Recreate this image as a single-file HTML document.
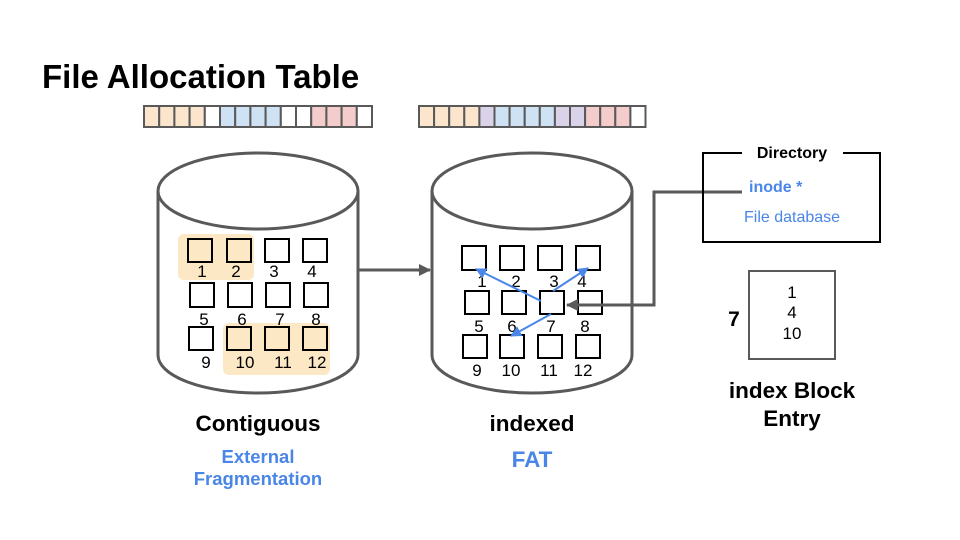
<!DOCTYPE html>
<html><head><meta charset="utf-8"><style>
body{margin:0;background:#fff;}
svg{display:block;font-family:"Liberation Sans",Arial,sans-serif;}
</style></head><body>
<svg width="960" height="540" viewBox="0 0 960 540" xmlns="http://www.w3.org/2000/svg">
<defs>
<marker id="ag" markerWidth="12" markerHeight="12" refX="11" refY="6" orient="auto" markerUnits="userSpaceOnUse"><path d="M0,0 L12,6 L0,12 z" fill="#595959"/></marker>
<marker id="ab" markerWidth="11" markerHeight="11" refX="10" refY="5.5" orient="auto" markerUnits="userSpaceOnUse"><path d="M0,0 L11,5.5 L0,11 z" fill="#4a86e8"/></marker>
</defs>
<text x="42" y="88" font-size="33" font-weight="bold" fill="#000">File Allocation Table</text>

<g stroke="#595959" stroke-width="2">
<rect x="144" y="106" width="15.2" height="21" fill="#fce5cd"/>
<rect x="159.2" y="106" width="15.2" height="21" fill="#fce5cd"/>
<rect x="174.4" y="106" width="15.2" height="21" fill="#fce5cd"/>
<rect x="189.6" y="106" width="15.2" height="21" fill="#fce5cd"/>
<rect x="204.8" y="106" width="15.2" height="21" fill="#fff"/>
<rect x="220" y="106" width="15.2" height="21" fill="#cfe2f3"/>
<rect x="235.2" y="106" width="15.2" height="21" fill="#cfe2f3"/>
<rect x="250.4" y="106" width="15.2" height="21" fill="#cfe2f3"/>
<rect x="265.6" y="106" width="15.2" height="21" fill="#cfe2f3"/>
<rect x="280.8" y="106" width="15.2" height="21" fill="#fff"/>
<rect x="296" y="106" width="15.2" height="21" fill="#fff"/>
<rect x="311.2" y="106" width="15.2" height="21" fill="#f4cccc"/>
<rect x="326.4" y="106" width="15.2" height="21" fill="#f4cccc"/>
<rect x="341.6" y="106" width="15.2" height="21" fill="#f4cccc"/>
<rect x="356.8" y="106" width="15.2" height="21" fill="#fff"/>
</g>
<g stroke="#595959" stroke-width="2">
<rect x="419" y="106" width="15.1" height="21" fill="#fce5cd"/>
<rect x="434.1" y="106" width="15.1" height="21" fill="#fce5cd"/>
<rect x="449.2" y="106" width="15.1" height="21" fill="#fce5cd"/>
<rect x="464.3" y="106" width="15.1" height="21" fill="#fce5cd"/>
<rect x="479.4" y="106" width="15.1" height="21" fill="#d9d2e9"/>
<rect x="494.5" y="106" width="15.1" height="21" fill="#cfe2f3"/>
<rect x="509.6" y="106" width="15.1" height="21" fill="#cfe2f3"/>
<rect x="524.7" y="106" width="15.1" height="21" fill="#cfe2f3"/>
<rect x="539.8" y="106" width="15.1" height="21" fill="#cfe2f3"/>
<rect x="554.9" y="106" width="15.1" height="21" fill="#d9d2e9"/>
<rect x="570" y="106" width="15.1" height="21" fill="#d9d2e9"/>
<rect x="585.1" y="106" width="15.1" height="21" fill="#f4cccc"/>
<rect x="600.2" y="106" width="15.1" height="21" fill="#f4cccc"/>
<rect x="615.3" y="106" width="15.1" height="21" fill="#f4cccc"/>
<rect x="630.4" y="106" width="15.1" height="21" fill="#fff"/>
</g>

<g fill="#fff" stroke="#595959" stroke-width="3">
<path d="M158,191 L158,355 A100,38 0 0 0 358,355 L358,191"/>
<ellipse cx="258" cy="191" rx="100" ry="38"/>
<path d="M432,191 L432,355 A100,38 0 0 0 632,355 L632,191"/>
<ellipse cx="532" cy="191" rx="100" ry="38"/>
</g>

<line x1="359" y1="270" x2="430" y2="270" stroke="#595959" stroke-width="3" marker-end="url(#ag)"/>

<rect x="178" y="234" width="76" height="46" rx="6" fill="#fce8c4"/>
<rect x="223" y="323" width="107" height="52" rx="6" fill="#fce8c4"/>

<g stroke="#000" stroke-width="2" fill="none">
<rect x="188" y="239" width="24" height="23" fill="#fce8c4"/>
<rect x="227" y="239" width="24" height="23" fill="#fce8c4"/>
<rect x="265" y="239" width="24" height="23"/>
<rect x="303" y="239" width="24" height="23"/>
<rect x="190" y="283" width="24" height="24"/>
<rect x="228" y="283" width="24" height="24"/>
<rect x="266" y="283" width="24" height="24"/>
<rect x="304" y="283" width="24" height="24"/>
<rect x="189" y="327" width="24" height="23"/>
<rect x="227" y="327" width="24" height="23"/>
<rect x="265" y="327" width="24" height="23"/>
<rect x="303" y="327" width="24" height="23"/>
</g>
<g font-size="17" fill="#000" text-anchor="middle">
<text x="202" y="277">1</text><text x="236" y="277">2</text><text x="274" y="277">3</text><text x="312" y="277">4</text>
<text x="204" y="325">5</text><text x="242" y="325">6</text><text x="280" y="325">7</text><text x="316" y="325">8</text>
<text x="206" y="368">9</text><text x="245" y="368">10</text><text x="283" y="368">11</text><text x="317" y="368">12</text>
</g>

<g stroke="#000" stroke-width="2" fill="#fff">
<rect x="462" y="246" width="24" height="24"/>
<rect x="500" y="246" width="24" height="24"/>
<rect x="538" y="246" width="24" height="24"/>
<rect x="576" y="246" width="24" height="24"/>
<rect x="465" y="291" width="24" height="23"/>
<rect x="502" y="291" width="24" height="23"/>
<rect x="540" y="291" width="24" height="23"/>
<rect x="578" y="291" width="24" height="23"/>
<rect x="463" y="335" width="24" height="23"/>
<rect x="500" y="335" width="24" height="23"/>
<rect x="538" y="335" width="24" height="23"/>
<rect x="576" y="335" width="24" height="23"/>
</g>
<g font-size="17" fill="#000" text-anchor="middle">
<text x="482" y="287">1</text><text x="516" y="287">2</text><text x="554" y="287">3</text><text x="582" y="287">4</text>
<text x="479" y="332">5</text><text x="512" y="332">6</text><text x="551" y="332">7</text><text x="585" y="332">8</text>
<text x="477" y="376">9</text><text x="511" y="376">10</text><text x="549" y="376">11</text><text x="583" y="376">12</text>
</g>
<g stroke="#4a86e8" stroke-width="2">
<line x1="541" y1="301" x2="476" y2="269" marker-end="url(#ab)"/>
<line x1="553" y1="291" x2="588" y2="268" marker-end="url(#ab)"/>
<line x1="551" y1="314" x2="511" y2="336" marker-end="url(#ab)"/>
</g>

<polyline points="742,192 654,192 654,305 567,305" fill="none" stroke="#595959" stroke-width="3" marker-end="url(#ag)"/>

<polyline points="742,153 703,153 703,242 880,242 880,153 843,153" fill="none" stroke="#000" stroke-width="2"/>
<text x="792" y="158" font-size="16" font-weight="bold" text-anchor="middle">Directory</text>
<text x="749" y="192" font-size="16" font-weight="bold" fill="#4a86e8">inode *</text>
<text x="744" y="222" font-size="16" fill="#4a86e8">File database</text>

<rect x="749" y="271" width="86" height="88" fill="none" stroke="#595959" stroke-width="2"/>
<g font-size="17" text-anchor="middle"><text x="792" y="298">1</text><text x="792" y="318">4</text><text x="792" y="339">10</text></g>
<text x="734" y="326" font-size="21" font-weight="bold" text-anchor="middle">7</text>
<text x="792" y="398" font-size="22.5" font-weight="bold" text-anchor="middle">index Block</text>
<text x="792" y="426" font-size="22.5" font-weight="bold" text-anchor="middle">Entry</text>

<text x="258" y="431" font-size="22.5" font-weight="bold" text-anchor="middle">Contiguous</text>
<text x="258" y="463" font-size="18.5" font-weight="bold" fill="#4a86e8" text-anchor="middle">External</text>
<text x="258" y="485" font-size="18.5" font-weight="bold" fill="#4a86e8" text-anchor="middle">Fragmentation</text>
<text x="532" y="431" font-size="22.5" font-weight="bold" text-anchor="middle">indexed</text>
<text x="532" y="467" font-size="22.5" font-weight="bold" fill="#4a86e8" text-anchor="middle">FAT</text>
</svg>
</body></html>
